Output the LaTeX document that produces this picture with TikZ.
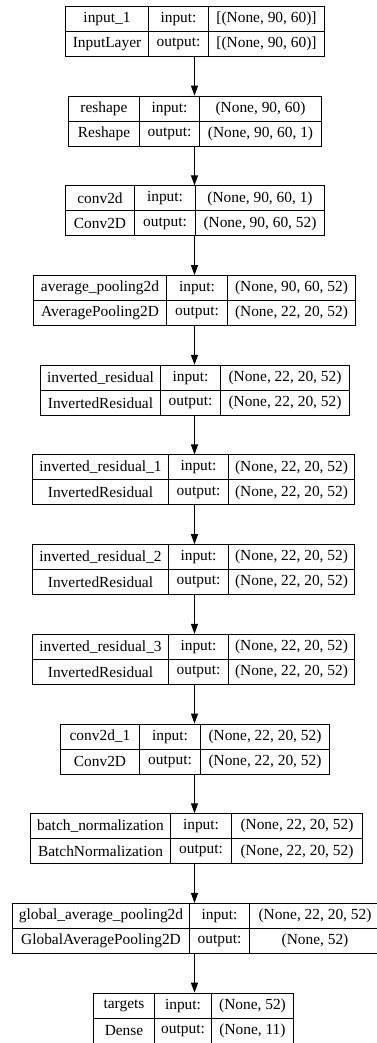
\documentclass[tikz,border=0pt]{standalone}
\usepackage{fontspec}
\setmainfont{Liberation Serif}
\usepackage{tikz}
\usetikzlibrary{arrows.meta,positioning}

% one keras layer: index, column edges x0..x3, name, class, input, output
\newcommand{\kbox}[9]{%
  \pgfmathsetmacro{\ktop}{1043-6-89.7*#1}
  \pgfmathsetmacro{\kwa}{#3-#2}
  \pgfmathsetmacro{\kwb}{#4-#3}
  \pgfmathsetmacro{\kwc}{#5-#4}
  \node[cell, minimum width=\kwa pt] (#1-name) at (#2,\ktop) {#6};
  \node[cell, minimum width=\kwa pt] (#1-cls) at (#2,\ktop-25) {#7};
  \node[cell, minimum width=\kwb pt] (#1-inl) at (#3,\ktop) {input:};
  \node[cell, minimum width=\kwb pt] (#1-outl) at (#3,\ktop-25) {output:};
  \node[cell, minimum width=\kwc pt] (#1-ins) at (#4,\ktop) {#8};
  \node[cell, minimum width=\kwc pt] (#1-outs) at (#4,\ktop-25) {#9};
}

\begin{document}
\begin{tikzpicture}[x=1pt, y=1pt,
  cell/.style={draw, line width=1pt, inner sep=0pt, anchor=north west,
    minimum height=25pt, font=\fontsize{15.4}{17}\selectfont},
  flow/.style={line width=1pt, -{Triangle[length=10pt, width=7pt]}}]
  \useasboundingbox[fill=white] (0,0) rectangle (377,1043);
  \coordinate (axis) at (194.5,0);

  \kbox{0}{65}{148}{208}{324}{input\_1}{InputLayer}{[(None, 90, 60)]}{[(None, 90, 60)]}
  \kbox{1}{68}{139}{199}{321}{reshape}{Reshape}{(None, 90, 60)}{(None, 90, 60, 1)}
  \kbox{2}{65}{134}{195}{324}{conv2d}{Conv2D}{(None, 90, 60, 1)}{(None, 90, 60, 52)}
  \kbox{3}{33}{166}{227}{355}{average\_pooling2d}{AveragePooling2D}{(None, 90, 60, 52)}{(None, 22, 20, 52)}
  \kbox{4}{40}{160}{220}{349}{inverted\_residual}{InvertedResidual}{(None, 22, 20, 52)}{(None, 22, 20, 52)}
  \kbox{5}{32}{168}{228}{354}{inverted\_residual\_1}{InvertedResidual}{(None, 22, 20, 52)}{(None, 22, 20, 52)}
  \kbox{6}{32}{168}{228}{354}{inverted\_residual\_2}{InvertedResidual}{(None, 22, 20, 52)}{(None, 22, 20, 52)}
  \kbox{7}{32}{168}{228}{354}{inverted\_residual\_3}{InvertedResidual}{(None, 22, 20, 52)}{(None, 22, 20, 52)}
  \kbox{8}{60}{139}{200}{329}{conv2d\_1}{Conv2D}{(None, 22, 20, 52)}{(None, 22, 20, 52)}
  \kbox{9}{30}{170}{231}{362}{batch\_normalization}{BatchNormalization}{(None, 22, 20, 52)}{(None, 22, 20, 52)}
  \kbox{10}{12}{189}{249}{380}{global\_average\_pooling2d}{GlobalAveragePooling2D}{(None, 22, 20, 52)}{(None, 52)}
  \kbox{11}{93}{154}{211}{293}{targets}{Dense}{(None, 52)}{(None, 11)}

  \foreach \a/\b in {0/1,1/2,2/3,3/4,4/5,5/6,6/7,7/8,8/9,9/10,10/11}
    \draw[flow] (\a-outl.south -| axis) -- (\b-inl.north -| axis);
\end{tikzpicture}
\end{document}
